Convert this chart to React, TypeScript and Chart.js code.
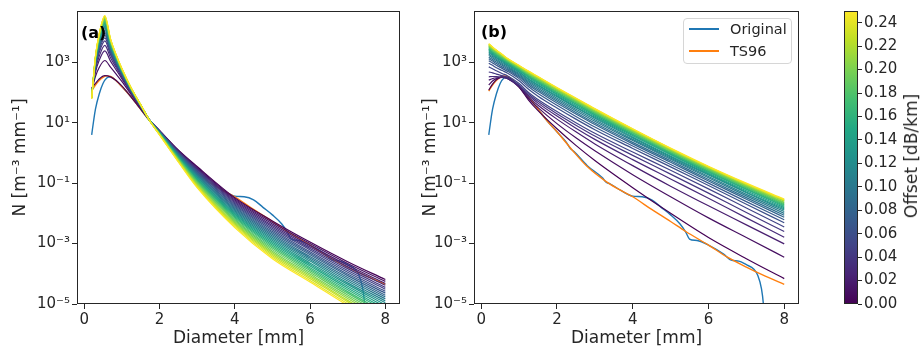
import React, { useEffect, useRef } from "react";
import { Chart, registerables } from "chart.js";

Chart.register(...registerables);

// ---------------- data ----------------
// attenuation offsets of the coloured curves [dB/km]
const offsets = [0, 0.01, 0.02, 0.03, 0.04, 0.05, 0.06, 0.07, 0.08, 0.09, 0.1, 0.11, 0.12, 0.13, 0.14, 0.15, 0.16, 0.17, 0.18, 0.19, 0.2, 0.21, 0.22, 0.23, 0.24, 0.25];

// panel (a): diameters [mm] and log10 N for each offset (rows follow `offsets`)
const diameterA = [0.2, 0.3, 0.4, 0.55, 0.7, 0.85, 1.0, 1.25, 1.5, 1.75, 2.0, 2.5, 3.0, 4.0, 5.0, 6.0, 7.0, 8.0];
const log10NA = [
  [2.15, 2.30, 2.45, 2.56, 2.52, 2.40, 2.22, 1.85, 1.45, 1.07, 0.75, 0.10, -0.45, -1.48, -2.25, -2.95, -3.60, -4.19],
  [2.06, 2.53, 2.83, 3.06, 2.84, 2.61, 2.37, 1.93, 1.49, 1.07, 0.74, 0.08, -0.48, -1.52, -2.30, -3.00, -3.66, -4.25],
  [2.01, 2.67, 3.07, 3.38, 3.04, 2.75, 2.46, 1.97, 1.51, 1.07, 0.74, 0.07, -0.51, -1.56, -2.35, -3.06, -3.72, -4.32],
  [1.98, 2.75, 3.20, 3.56, 3.15, 2.83, 2.51, 2.00, 1.53, 1.07, 0.73, 0.05, -0.53, -1.60, -2.40, -3.11, -3.77, -4.38],
  [1.95, 2.82, 3.32, 3.71, 3.25, 2.89, 2.56, 2.02, 1.54, 1.07, 0.73, 0.04, -0.56, -1.64, -2.45, -3.16, -3.83, -4.45],
  [1.93, 2.87, 3.40, 3.81, 3.31, 2.94, 2.59, 2.04, 1.55, 1.07, 0.72, 0.02, -0.59, -1.68, -2.50, -3.21, -3.89, -4.51],
  [1.92, 2.90, 3.46, 3.89, 3.36, 2.97, 2.61, 2.05, 1.55, 1.07, 0.71, 0.00, -0.62, -1.72, -2.55, -3.27, -3.95, -4.58],
  [1.90, 2.93, 3.51, 3.96, 3.41, 3.00, 2.63, 2.06, 1.56, 1.06, 0.71, -0.01, -0.65, -1.76, -2.60, -3.32, -4.01, -4.64],
  [1.89, 2.96, 3.55, 4.02, 3.45, 3.02, 2.65, 2.07, 1.56, 1.06, 0.70, -0.03, -0.67, -1.80, -2.65, -3.37, -4.06, -4.71],
  [1.88, 2.98, 3.59, 4.07, 3.48, 3.05, 2.66, 2.08, 1.56, 1.06, 0.70, -0.04, -0.70, -1.84, -2.70, -3.43, -4.12, -4.77],
  [1.88, 3.01, 3.63, 4.12, 3.51, 3.07, 2.68, 2.09, 1.57, 1.06, 0.69, -0.06, -0.73, -1.88, -2.75, -3.48, -4.18, -4.83],
  [1.87, 3.02, 3.66, 4.16, 3.53, 3.08, 2.69, 2.09, 1.57, 1.06, 0.68, -0.08, -0.76, -1.92, -2.80, -3.53, -4.24, -4.90],
  [1.86, 3.04, 3.69, 4.20, 3.56, 3.10, 2.70, 2.10, 1.57, 1.06, 0.68, -0.09, -0.79, -1.96, -2.85, -3.58, -4.30, -4.96],
  [1.85, 3.06, 3.72, 4.24, 3.59, 3.12, 2.71, 2.10, 1.58, 1.06, 0.67, -0.11, -0.81, -2.00, -2.90, -3.64, -4.35, -5.03],
  [1.85, 3.07, 3.74, 4.27, 3.60, 3.13, 2.72, 2.11, 1.58, 1.06, 0.67, -0.12, -0.84, -2.03, -2.95, -3.69, -4.41, -5.09],
  [1.84, 3.09, 3.76, 4.30, 3.62, 3.14, 2.73, 2.11, 1.58, 1.06, 0.66, -0.14, -0.87, -2.07, -3.00, -3.74, -4.47, -5.16],
  [1.84, 3.10, 3.79, 4.33, 3.64, 3.16, 2.74, 2.12, 1.58, 1.06, 0.65, -0.16, -0.90, -2.11, -3.05, -3.80, -4.53, -5.22],
  [1.83, 3.12, 3.81, 4.36, 3.66, 3.17, 2.75, 2.12, 1.59, 1.06, 0.65, -0.17, -0.93, -2.15, -3.10, -3.85, -4.59, -5.29],
  [1.83, 3.13, 3.83, 4.39, 3.68, 3.18, 2.75, 2.13, 1.59, 1.06, 0.64, -0.19, -0.95, -2.19, -3.15, -3.90, -4.64, -5.35],
  [1.82, 3.14, 3.85, 4.42, 3.70, 3.20, 2.76, 2.13, 1.59, 1.05, 0.64, -0.20, -0.98, -2.23, -3.20, -3.95, -4.70, -5.41],
  [1.82, 3.15, 3.87, 4.45, 3.71, 3.21, 2.77, 2.13, 1.59, 1.05, 0.63, -0.22, -1.01, -2.27, -3.25, -4.01, -4.76, -5.48],
  [1.81, 3.16, 3.89, 4.47, 3.73, 3.22, 2.78, 2.14, 1.59, 1.05, 0.62, -0.24, -1.04, -2.31, -3.30, -4.06, -4.82, -5.54],
  [1.81, 3.18, 3.91, 4.49, 3.75, 3.23, 2.78, 2.14, 1.60, 1.05, 0.62, -0.25, -1.07, -2.35, -3.35, -4.11, -4.88, -5.61],
  [1.81, 3.19, 3.93, 4.52, 3.76, 3.24, 2.79, 2.15, 1.60, 1.05, 0.61, -0.27, -1.09, -2.39, -3.40, -4.16, -4.93, -5.67],
  [1.80, 3.19, 3.94, 4.53, 3.77, 3.24, 2.80, 2.15, 1.60, 1.05, 0.61, -0.28, -1.12, -2.43, -3.45, -4.22, -4.99, -5.74],
  [1.80, 3.20, 3.95, 4.55, 3.78, 3.25, 2.80, 2.15, 1.60, 1.05, 0.60, -0.30, -1.15, -2.47, -3.50, -4.27, -5.05, -5.80],
];

// panel (b): diameters [mm] and log10 N for each offset
const diameterB = [0.2, 0.3, 0.4, 0.55, 0.7, 1.0, 1.25, 1.5, 2.0, 2.5, 3.0, 4.0, 5.0, 6.0, 7.0, 8.0];
const log10NB = [
  [2.08, 2.28, 2.42, 2.52, 2.50, 2.18, 1.75, 1.40, 0.80, 0.25, -0.25, -1.15, -2.00, -2.80, -3.50, -4.16],
  [2.25, 2.38, 2.46, 2.50, 2.46, 2.18, 1.80, 1.50, 0.97, 0.50, 0.07, -0.72, -1.45, -2.15, -2.80, -3.45],
  [2.41, 2.46, 2.49, 2.50, 2.46, 2.20, 1.85, 1.58, 1.12, 0.70, 0.30, -0.42, -1.10, -1.75, -2.38, -3.01],
  [2.52, 2.53, 2.53, 2.51, 2.47, 2.22, 1.90, 1.65, 1.22, 0.82, 0.45, -0.22, -0.86, -1.50, -2.15, -2.79],
  [2.68, 2.65, 2.61, 2.56, 2.50, 2.25, 1.95, 1.71, 1.30, 0.92, 0.56, -0.08, -0.70, -1.33, -1.97, -2.60],
  [2.85, 2.79, 2.72, 2.63, 2.55, 2.30, 2.00, 1.77, 1.37, 1.00, 0.65, 0.03, -0.57, -1.19, -1.82, -2.45],
  [2.97, 2.90, 2.82, 2.73, 2.64, 2.39, 2.11, 1.88, 1.49, 1.12, 0.77, 0.15, -0.46, -1.08, -1.70, -2.31],
  [3.05, 2.98, 2.90, 2.80, 2.70, 2.46, 2.19, 1.97, 1.58, 1.21, 0.86, 0.23, -0.38, -1.00, -1.61, -2.21],
  [3.12, 3.04, 2.96, 2.85, 2.75, 2.51, 2.25, 2.04, 1.65, 1.29, 0.94, 0.30, -0.31, -0.93, -1.53, -2.13],
  [3.17, 3.09, 3.01, 2.90, 2.79, 2.55, 2.30, 2.09, 1.71, 1.34, 0.99, 0.35, -0.26, -0.88, -1.48, -2.06],
  [3.23, 3.14, 3.06, 2.94, 2.83, 2.59, 2.35, 2.14, 1.76, 1.40, 1.05, 0.41, -0.21, -0.82, -1.42, -2.00],
  [3.27, 3.19, 3.10, 2.98, 2.87, 2.63, 2.39, 2.19, 1.81, 1.45, 1.10, 0.45, -0.17, -0.78, -1.37, -1.94],
  [3.32, 3.23, 3.14, 3.02, 2.90, 2.67, 2.43, 2.23, 1.86, 1.50, 1.15, 0.50, -0.13, -0.73, -1.32, -1.89],
  [3.35, 3.26, 3.17, 3.05, 2.93, 2.69, 2.46, 2.26, 1.89, 1.53, 1.18, 0.53, -0.10, -0.70, -1.29, -1.85],
  [3.39, 3.29, 3.20, 3.08, 2.96, 2.72, 2.50, 2.30, 1.93, 1.57, 1.22, 0.57, -0.06, -0.67, -1.25, -1.81],
  [3.42, 3.32, 3.23, 3.10, 2.98, 2.74, 2.53, 2.33, 1.96, 1.61, 1.26, 0.60, -0.03, -0.64, -1.21, -1.77],
  [3.44, 3.34, 3.25, 3.12, 3.00, 2.76, 2.55, 2.36, 1.99, 1.63, 1.28, 0.62, -0.01, -0.61, -1.19, -1.74],
  [3.47, 3.37, 3.27, 3.14, 3.01, 2.78, 2.57, 2.38, 2.01, 1.66, 1.31, 0.65, 0.01, -0.59, -1.16, -1.71],
  [3.50, 3.40, 3.30, 3.17, 3.04, 2.80, 2.60, 2.41, 2.04, 1.69, 1.34, 0.68, 0.04, -0.56, -1.13, -1.68],
  [3.52, 3.42, 3.32, 3.19, 3.06, 2.82, 2.62, 2.43, 2.07, 1.71, 1.36, 0.70, 0.07, -0.54, -1.11, -1.65],
  [3.54, 3.43, 3.33, 3.20, 3.07, 2.83, 2.63, 2.45, 2.08, 1.73, 1.38, 0.72, 0.08, -0.52, -1.09, -1.63],
  [3.56, 3.45, 3.36, 3.22, 3.08, 2.85, 2.65, 2.47, 2.11, 1.75, 1.40, 0.74, 0.10, -0.50, -1.07, -1.60],
  [3.58, 3.47, 3.38, 3.24, 3.10, 2.87, 2.68, 2.49, 2.13, 1.78, 1.43, 0.76, 0.12, -0.48, -1.04, -1.58],
  [3.60, 3.49, 3.39, 3.25, 3.11, 2.88, 2.69, 2.51, 2.15, 1.80, 1.45, 0.78, 0.14, -0.46, -1.03, -1.56],
  [3.61, 3.50, 3.40, 3.26, 3.12, 2.89, 2.70, 2.52, 2.15, 1.80, 1.45, 0.79, 0.15, -0.46, -1.02, -1.55],
  [3.62, 3.51, 3.41, 3.27, 3.13, 2.90, 2.71, 2.53, 2.17, 1.82, 1.47, 0.80, 0.16, -0.44, -1.00, -1.53],
];

// TS96 fit (same in both panels)
const ts96D = [0.2, 0.3, 0.4, 0.5, 0.6, 0.7, 0.8, 1.0, 1.25, 1.5, 1.75, 2.0, 2.4, 2.8, 3.3, 3.6, 4.0, 4.5, 5.0, 5.4, 6.0, 6.5, 7.0, 7.5, 8.0];
const ts96Log10N = [2.05, 2.25, 2.40, 2.50, 2.55, 2.53, 2.45, 2.20, 1.85, 1.45, 1.05, 0.70, 0.10, -0.45, -0.95, -1.18, -1.45, -1.87, -2.27, -2.60, -3.05, -3.45, -3.78, -4.08, -4.35];

// Original spectrum (same in both panels)
const originalD = [0.2, 0.25, 0.3, 0.4, 0.5, 0.6, 0.7, 0.8, 1.0, 1.25, 1.5, 1.75, 2.0, 2.25, 2.35, 2.45, 2.8, 3.2, 3.3, 3.4, 3.7, 4.0, 4.25, 4.5, 4.75, 5.0, 5.25, 5.4, 5.5, 5.7, 6.0, 6.4, 6.6, 6.8, 7.0, 7.2, 7.3, 7.4, 7.45, 7.5];
const originalLog10N = [0.60, 1.05, 1.45, 1.95, 2.30, 2.48, 2.52, 2.45, 2.20, 1.85, 1.45, 1.05, 0.70, 0.35, 0.15, 0.05, -0.42, -0.82, -0.97, -1.02, -1.25, -1.43, -1.45, -1.55, -1.80, -2.05, -2.35, -2.62, -2.85, -2.90, -3.05, -3.35, -3.55, -3.58, -3.70, -3.85, -4.05, -4.50, -5.00, -6.00];

// ticks
const xTickValues = [0, 2, 4, 6, 8];
const yTickValues = [1e-5, 1e-3, 1e-1, 1e1, 1e3];
const yTickLabels = ["10⁻⁵", "10⁻³", "10⁻¹", "10¹", "10³"];
const colorbarTicks = [0, 0.02, 0.04, 0.06, 0.08, 0.1, 0.12, 0.14, 0.16, 0.18, 0.2, 0.22, 0.24];
const offsetMax = 0.25;

// ---------------- styling helpers ----------------
const FONT = "'DejaVu Sans', 'Liberation Sans', sans-serif";
const TEXT = "#262626";
const AXIS = "#262626";
const VIRIDIS = ["#440154", "#482475", "#414487", "#355f8d", "#2a788e", "#21918c", "#22a884", "#44bf70", "#7ad151", "#bddf26", "#fde725"];

function hexToRgb(h: string) {
  const n = parseInt(h.slice(1), 16);
  return [(n >> 16) & 255, (n >> 8) & 255, n & 255];
}
function viridis(t: number) {
  const p = Math.max(0, Math.min(1, t)) * 10;
  const i = Math.min(9, Math.floor(p));
  const f = p - i;
  const a = hexToRgb(VIRIDIS[i]);
  const b = hexToRgb(VIRIDIS[i + 1]);
  const c = a.map((v, j) => Math.round(v + (b[j] - v) * f));
  return `rgb(${c[0]},${c[1]},${c[2]})`;
}

const toPoints = (xs: number[], logs: number[]) => xs.map((x, i) => ({ x, y: Math.pow(10, logs[i]) }));

const framePlugin = {
  id: "frame",
  afterDraw(chart: any) {
    const { ctx, chartArea } = chart;
    if (!chartArea) return;
    const l = Math.round(chartArea.left) + 0.5;
    const t = Math.round(chartArea.top) + 0.5;
    const r = Math.round(chartArea.right) - 0.5;
    const b = Math.round(chartArea.bottom) - 0.5;
    ctx.save();
    ctx.strokeStyle = AXIS;
    ctx.lineWidth = 1;
    ctx.strokeRect(l, t, r - l, b - t);
    ctx.restore();
  },
};

function panelConfig(diam: number[], rows: number[][], yWidth: number, rightPad: number): any {
  // Chart.js paints the first dataset on top: coloured curves (highest offset on top),
  // then TS96, then Original underneath, as in the reference.
  const datasets: any[] = [];
  for (let k = rows.length - 1; k >= 0; k--) {
    datasets.push({
      label: `offset ${offsets[k].toFixed(2)}`,
      data: toPoints(diam, rows[k]),
      borderColor: viridis(offsets[k] / offsetMax),
      borderWidth: 1.2,
    });
  }
  datasets.push({ label: "TS96", data: toPoints(ts96D, ts96Log10N), borderColor: "#ff7f0e", borderWidth: 1.4 });
  datasets.push({ label: "Original", data: toPoints(originalD, originalLog10N), borderColor: "#1f77b4", borderWidth: 1.4 });
  return {
    type: "line",
    data: { datasets },
    options: {
      animation: false,
      responsive: false,
      maintainAspectRatio: false,
      devicePixelRatio: 1,
      layout: { padding: { left: 0, right: rightPad, top: 8, bottom: 0 } },
      plugins: { legend: { display: false }, tooltip: { enabled: false } },
      elements: {
        point: { radius: 0 },
        line: { fill: false, cubicInterpolationMode: "monotone" },
      },
      scales: {
        x: {
          type: "linear",
          min: -0.19,
          max: 8.39,
          afterBuildTicks: (s: any) => {
            s.ticks = xTickValues.map((v) => ({ value: v }));
          },
          afterFit: (s: any) => {
            s.height = 44;
          },
          ticks: { font: { family: FONT, size: 15 }, color: TEXT, padding: 2, maxRotation: 0, callback: (v: any) => String(v) },
          grid: { display: true, drawOnChartArea: false, drawTicks: true, tickLength: 5, color: AXIS },
          border: { display: false },
          title: { display: true, text: "Diameter [mm]", font: { family: FONT, size: 17 }, color: TEXT, padding: { top: 0, bottom: -1 } },
        },
        y: {
          type: "logarithmic",
          min: 1e-5,
          max: 5e4,
          afterBuildTicks: (s: any) => {
            s.ticks = yTickValues.map((v) => ({ value: v }));
          },
          afterFit: (s: any) => {
            s.width = yWidth;
          },
          ticks: {
            font: { family: FONT, size: 15 },
            color: TEXT,
            padding: 2,
            callback: (v: any) => {
              const i = yTickValues.findIndex((t) => Math.abs(Math.log10(t) - Math.log10(v)) < 1e-6);
              return i >= 0 ? yTickLabels[i] : "";
            },
          },
          grid: { display: true, drawOnChartArea: false, drawTicks: true, tickLength: 5, color: AXIS },
          border: { display: false },
          title: { display: true, text: "N [m⁻³ mm⁻¹]", font: { family: FONT, size: 17 }, color: TEXT, padding: { top: 10, bottom: 0 } },
        },
      },
    },
    plugins: [framePlugin],
  };
}

function colorbarConfig(): any {
  return {
    type: "bar",
    data: {
      labels: ["offset"],
      datasets: [
        {
          data: [[0, offsetMax]],
          borderWidth: 0,
          barPercentage: 1,
          categoryPercentage: 1,
          backgroundColor: (c: any) => {
            const { ctx, chartArea } = c.chart;
            if (!chartArea) return VIRIDIS[0];
            const g = ctx.createLinearGradient(0, chartArea.bottom, 0, chartArea.top);
            VIRIDIS.forEach((col, i) => g.addColorStop(i / 10, col));
            return g;
          },
        },
      ],
    },
    options: {
      animation: false,
      responsive: false,
      maintainAspectRatio: false,
      devicePixelRatio: 1,
      layout: { padding: { left: 34, right: 0, top: 8, bottom: 44 } },
      plugins: { legend: { display: false }, tooltip: { enabled: false } },
      scales: {
        x: { display: false },
        y: {
          position: "right",
          min: 0,
          max: offsetMax,
          afterBuildTicks: (s: any) => {
            s.ticks = colorbarTicks.map((v) => ({ value: v }));
          },
          afterFit: (s: any) => {
            s.width = 62;
          },
          ticks: { font: { family: FONT, size: 15 }, color: TEXT, padding: 2, callback: (v: any) => Number(v).toFixed(2) },
          grid: { display: true, drawOnChartArea: false, drawTicks: true, tickLength: 4, color: AXIS },
          border: { display: false },
        },
      },
    },
    plugins: [framePlugin],
  };
}

function ChartCanvas({ make, left, width }: { make: () => any; left: number; width: number }) {
  const ref = useRef<HTMLCanvasElement | null>(null);
  useEffect(() => {
    if (!ref.current) return;
    const chart = new Chart(ref.current, make());
    return () => chart.destroy();
  }, []);
  return (
    <canvas
      ref={ref}
      width={width}
      height={348}
      style={{ position: "absolute", left, top: 0, width, height: 348 }}
    />
  );
}

export default function App() {
  return (
    <div style={{ position: "absolute", left: 0, top: 0, width: 920, height: 348, background: "#fff", overflow: "hidden", fontFamily: FONT }}>
      <ChartCanvas make={() => panelConfig(diameterA, log10NA, 77, 10)} left={0} width={410} />
      <ChartCanvas make={() => panelConfig(diameterB, log10NB, 64, 11)} left={410} width={400} />
      <ChartCanvas make={colorbarConfig} left={810} width={110} />

      <div style={{ position: "absolute", left: 81, top: 23, fontSize: 16, fontWeight: "bold", color: "#000", lineHeight: "20px" }}>(a)</div>
      <div style={{ position: "absolute", left: 481, top: 22, fontSize: 16, fontWeight: "bold", color: "#000", lineHeight: "20px" }}>(b)</div>

      <div
        style={{
          position: "absolute",
          left: 683,
          top: 18,
          width: 109,
          height: 46,
          boxSizing: "border-box",
          border: "1px solid #d6d6d6",
          borderRadius: 4,
          background: "rgba(255,255,255,0.85)",
        }}
      >
        <div style={{ position: "absolute", left: 5, top: 9, width: 30, height: 1.6, background: "#1f77b4" }} />
        <div style={{ position: "absolute", left: 46, top: 1, fontSize: 14.5, lineHeight: "18px", color: TEXT }}>Original</div>
        <div style={{ position: "absolute", left: 5, top: 31, width: 30, height: 1.6, background: "#ff7f0e" }} />
        <div style={{ position: "absolute", left: 46, top: 23, fontSize: 14.5, lineHeight: "18px", color: TEXT }}>TS96</div>
      </div>

      <div
        style={{
          position: "absolute",
          left: 911,
          top: 156,
          transform: "translate(-50%, -50%) rotate(-90deg)",
          whiteSpace: "nowrap",
          fontSize: 17,
          lineHeight: "20px",
          color: TEXT,
        }}
      >
        Offset [dB/km]
      </div>
    </div>
  );
}
